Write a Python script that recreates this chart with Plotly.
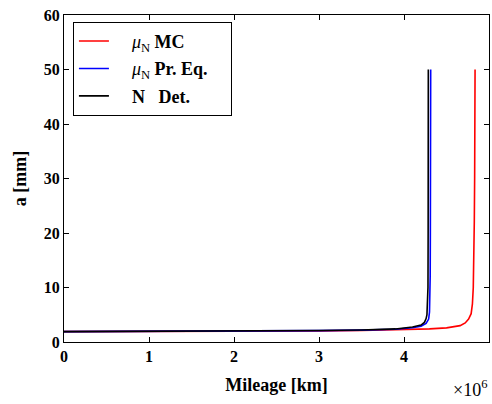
import plotly.graph_objects as go

# Mileage in units of 10^6 km, crack depth a in mm
mc_mileage = [0, 1.0, 2.0, 3.0, 3.5, 4.0, 4.3, 4.5, 4.6, 4.66, 4.72, 4.76, 4.79,
              4.805, 4.815, 4.822, 4.827, 4.831, 4.834, 4.836]
mc_depth = [1.9, 1.92, 1.97, 2.05, 2.12, 2.25, 2.4, 2.6, 2.8, 3.0, 3.5, 4.2, 5.2,
            7.0, 10.0, 15.0, 22.0, 30.0, 40.0, 50.0]

pe_mileage = [0, 1.0, 2.0, 3.0, 3.5, 3.9, 4.1, 4.2, 4.26, 4.29, 4.30, 4.305,
              4.308, 4.310, 4.312, 4.314]
pe_depth = [1.9, 1.93, 1.98, 2.08, 2.18, 2.35, 2.6, 2.9, 3.4, 4.2, 5.5, 8.0,
            12.0, 20.0, 30.0, 50.0]

det_mileage = [0, 1.0, 2.0, 3.0, 3.5, 3.9, 4.1, 4.2, 4.24, 4.26, 4.27, 4.275,
               4.28, 4.282, 4.284, 4.286]
det_depth = [1.9, 1.93, 1.98, 2.1, 2.2, 2.4, 2.75, 3.1, 3.6, 4.3, 5.0, 6.6,
             7.0, 10.0, 20.0, 50.0]

x_ticks = [0, 1, 2, 3, 4, 5]
y_ticks = [0, 10, 20, 30, 40, 50, 60]

serif = "Liberation Serif, Times New Roman, serif"
pad = "&nbsp;" * 4

fig = go.Figure()
fig.add_trace(go.Scatter(
    x=mc_mileage, y=mc_depth, mode="lines", legendgroup="mc",
    line=dict(color="#ff0000", width=1.6),
    name=pad + "<i>μ</i><sub>N</sub> <b>MC</b>"))
fig.add_trace(go.Scatter(
    x=pe_mileage, y=pe_depth, mode="lines", legendgroup="pe",
    line=dict(color="#0000ff", width=1.6),
    name=pad + "<i>μ</i><sub>N</sub> <b>Pr. Eq.</b>" + "&nbsp;" * 4))
fig.add_trace(go.Scatter(
    x=det_mileage, y=det_depth, mode="lines", legendgroup="det",
    line=dict(color="#000000", width=1.6),
    name=pad + "<b>N&nbsp;&nbsp;&nbsp;Det.</b>"))

axis_common = dict(
    showgrid=False, zeroline=False, showline=True, linecolor="black",
    linewidth=1, mirror="allticks", ticks="inside", ticklen=5,
    tickcolor="black", tickwidth=1,
    tickfont=dict(family=serif, size=16, color="black", weight="bold"),
)

fig.update_xaxes(
    range=[0, 5], tickvals=x_ticks, ticktext=[str(v) for v in x_ticks],
    title=dict(text="<b>Mileage [km]</b>", font=dict(family=serif, size=18, color="black"),
               standoff=14),
    **axis_common)
fig.update_yaxes(
    range=[0, 60], tickvals=y_ticks, ticktext=[str(v) for v in y_ticks],
    title=dict(text="<b>a [mm]</b>", font=dict(family=serif, size=18, color="black"),
               standoff=12),
    **axis_common)

fig.add_annotation(
    text="×10<sup>6</sup>", xref="paper", yref="paper", x=1.0, y=-0.1,
    xanchor="right", yanchor="top", showarrow=False,
    font=dict(family=serif, size=18, color="black"))

fig.update_layout(
    width=492, height=404,
    margin=dict(l=64, r=3, t=15, b=62),
    plot_bgcolor="white", paper_bgcolor="white",
    font=dict(family=serif, color="black"),
    legend=dict(
        x=0.021, y=0.979, xanchor="left", yanchor="top",
        bordercolor="black", borderwidth=1, bgcolor="white",
        font=dict(family=serif, size=18, color="black"),
        tracegroupgap=1,
    ),
    showlegend=True,
)

fig.write_html("out.html")
